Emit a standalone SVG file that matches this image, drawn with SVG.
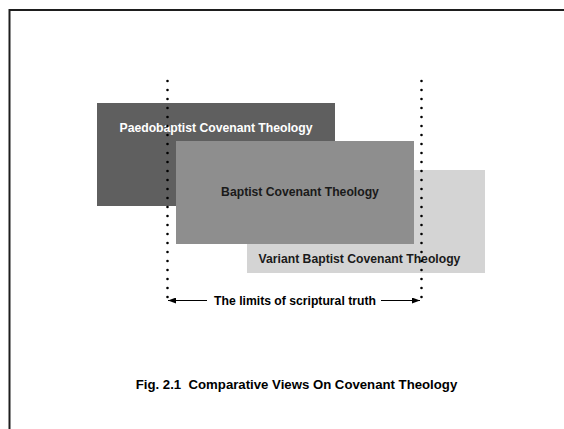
<svg xmlns="http://www.w3.org/2000/svg" width="564" height="429" viewBox="0 0 564 429">
<style>
text{font-family:"Liberation Sans",Arial,sans-serif;font-weight:bold;text-anchor:middle}
.lbl{font-size:12.2px}
.dots{stroke:#000;stroke-width:2.6;stroke-linecap:round;stroke-dasharray:0 9;fill:none}
.arr{stroke:#000;stroke-width:1;fill:none}
</style>
<defs>
<marker id="ah" viewBox="0 0 8 6" refX="8" refY="3" markerWidth="8" markerHeight="6" markerUnits="userSpaceOnUse" orient="auto">
<path d="M0,0 L8,3 L0,6 Z" fill="#000"/>
</marker>
</defs>
<rect width="564" height="429" fill="#fff"/>
<path d="M9.5,429 V10 H564" fill="none" stroke="#1e1e1e" stroke-width="2"/>
<g id="variant">
<rect x="247" y="170" width="238" height="103" fill="#d4d4d4"/>
<text class="lbl" x="359.5" y="263" fill="#1a1a1a">Variant Baptist Covenant Theology</text>
</g>
<g id="paedobaptist">
<rect x="97" y="103" width="238" height="103" fill="#5f5f5f"/>
<text class="lbl" x="216" y="132" fill="#fff">Paedobaptist Covenant Theology</text>
</g>
<g id="baptist">
<rect x="176" y="141" width="238" height="103" fill="#8e8e8e"/>
<text class="lbl" x="300" y="196" fill="#1a1a1a">Baptist Covenant Theology</text>
</g>
<g id="connectors">
<path class="dots" d="M167.5,81 V306"/>
<path class="dots" d="M421.5,81 V306"/>
<path class="arr" d="M207,300.5 H168" marker-end="url(#ah)"/>
<path class="arr" d="M381,300.5 H420" marker-end="url(#ah)"/>
</g>
<g id="limits">
<text class="lbl" x="295" y="305">The limits of scriptural truth</text>
</g>
<g id="caption">
<text x="296.5" y="389" style="font-size:13.2px;white-space:pre" xml:space="preserve">Fig. 2.1  Comparative Views On Covenant Theology</text>
</g>
</svg>
